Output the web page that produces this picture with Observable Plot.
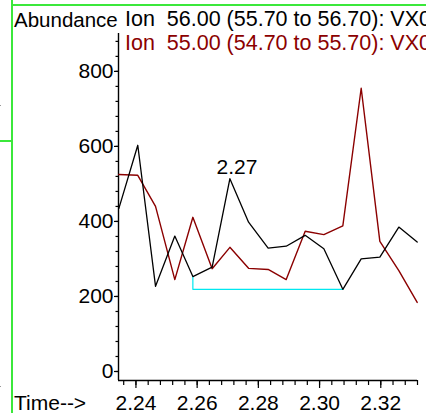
<!DOCTYPE html>
<html>
<head>
<meta charset="utf-8">
<script src="https://cdn.jsdelivr.net/npm/d3@7"></script>
<script src="https://cdn.jsdelivr.net/npm/@observablehq/plot@0.6"></script>
<style>
  html, body { margin: 0; padding: 0; background: #fff; }
  #wrap { position: relative; width: 426px; height: 414px; overflow: hidden; font-family: "Liberation Sans", Arial, sans-serif; }
  #wrap svg { position: absolute; left: 0; top: 0; }
  .t { position: absolute; font-size: 21.5px; white-space: pre; line-height: 1; }
  .g { position: absolute; background: #3be83b; }
  .d { position: absolute; width: 1px; height: 1px; background: #999; }
</style>
</head>
<body>
<div id="wrap"></div>
<script>
// Scan times (min) and abundances
const times = [2.2344, 2.2406, 2.2464, 2.2527, 2.2586, 2.2649, 2.2707, 2.2768, 2.2832, 2.2891, 2.2953, 2.3014, 2.3076, 2.3136, 2.3197, 2.3259, 2.3319];
const ion56 = [434, 603, 227, 361, 253, 278, 514, 398, 329, 334, 363, 327, 219, 300, 305, 385, 345];
const ion55 = [525, 523, 440, 245, 411, 274, 331, 275, 272, 245, 374, 365, 388, 755, 347, 269, 184];
const peakLabel = "2.27";
const peakIndex = 6;
const baseStartIndex = 4;
const baseEndIndex = 12;
const xDomain = [2.2343, 2.332];
const yDomain = [-24, 901];
const xMajor = [2.24, 2.26, 2.28, 2.30, 2.32];
const xMinor = d3.range(2.236, 2.3325, 0.004);
const yMajor = [0, 200, 400, 600, 800];
const yMinor = d3.range(0, 881, 40);
const title1 = "Ion  56.00 (55.70 to 56.70): VX0";
const title2 = "Ion  55.00 (54.70 to 55.70): VX0";

const s56 = times.map((t, i) => ({t, v: ion56[i]}));
const s55 = times.map((t, i) => ({t, v: ion55[i]}));
const baseLevel = ion56[baseEndIndex];
const baseline = [
  {t: times[baseStartIndex], v: ion56[baseStartIndex]},
  {t: times[baseStartIndex], v: baseLevel},
  {t: times[baseEndIndex], v: baseLevel}
];
const peak = [{t: times[peakIndex], v: ion56[peakIndex], label: peakLabel}];

const font = "Liberation Sans, Arial, sans-serif";
const chart = Plot.plot({
  width: 426,
  height: 414,
  marginLeft: 118,
  marginRight: 9,
  marginTop: 33,
  marginBottom: 34,
  style: {fontFamily: font, fontSize: "21px", background: "transparent", overflow: "visible"},
  x: {domain: xDomain},
  y: {domain: yDomain},
  marks: [
    Plot.axisX({ticks: xMinor, tickSize: 5, tickFormat: () => "", label: null, strokeWidth: 1.2}),
    Plot.axisX({ticks: xMajor, tickSize: 8, tickPadding: 7, tickFormat: d3.format(".2f"), label: null, fontSize: 21, strokeWidth: 1.2, fill: "#000"}),
    Plot.axisY({ticks: yMinor, tickSize: 2.5, tickFormat: () => "", label: null, strokeWidth: 1.2}),
    Plot.axisY({ticks: yMajor, tickSize: 4, tickPadding: 1, tickFormat: d3.format("d"), label: null, fontSize: 21, strokeWidth: 1.2, fill: "#000"}),
    Plot.ruleX([xDomain[0]], {stroke: "#000", strokeWidth: 1.4}),
    Plot.ruleY([yDomain[0]], {stroke: "#000", strokeWidth: 1.4}),
    Plot.line(baseline, {x: "t", y: "v", stroke: "#00e8f0", strokeWidth: 1.2}),
    Plot.line(s55, {x: "t", y: "v", stroke: "#8b0000", strokeWidth: 1.4}),
    Plot.line(s56, {x: "t", y: "v", stroke: "#000", strokeWidth: 1.3}),
    Plot.text(peak, {x: "t", y: "v", text: "label", lineAnchor: "bottom", dy: -5, dx: 7, fontSize: 21, fill: "#000"})
  ]
});

const wrap = document.getElementById("wrap");
wrap.appendChild(chart);

function addDiv(cls, css, text) {
  const el = document.createElement("div");
  el.className = cls;
  Object.assign(el.style, css);
  if (text) el.textContent = text;
  wrap.appendChild(el);
}
// window frame remnants
addDiv("g", {left: "11px", top: "0px", width: "2px", height: "413px"});
addDiv("g", {left: "12px", top: "4px", width: "414px", height: "2px"});
addDiv("g", {left: "0px", top: "140px", width: "12px", height: "2px"});
addDiv("d", {left: "0px", top: "105px"});
addDiv("d", {left: "0px", top: "386px"});
// text
addDiv("t", {left: "14px", top: "9.5px", color: "#000", fontSize: "20.5px"}, "Abundance");
addDiv("t", {left: "125px", top: "9px", color: "#000"}, title1);
addDiv("t", {left: "125px", top: "33px", color: "#8b0000"}, title2);
addDiv("t", {left: "14px", top: "392px", color: "#000", fontSize: "21px"}, "Time-->");
</script>
</body>
</html>
